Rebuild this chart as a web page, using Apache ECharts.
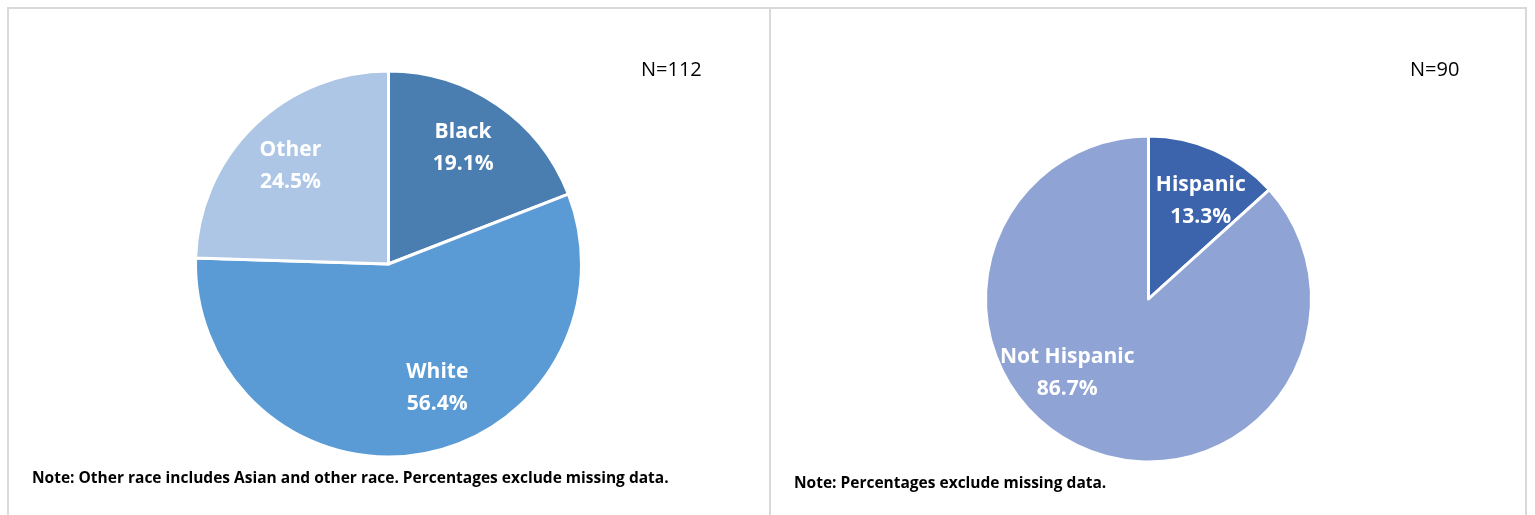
<!DOCTYPE html>
<html>
<head>
<meta charset="utf-8">
<script src="https://cdn.jsdelivr.net/npm/echarts@6/dist/echarts.min.js"></script>
<style>
  html, body { margin: 0; padding: 0; background: #fff; }
  #chart { width: 1535px; height: 515px; }
</style>
</head>
<body>
<div id="chart"></div>
<script>
// race breakdown (left pie), clockwise from 12 o'clock
const raceNames = ['Black', 'White', 'Other'];
const raceValues = [19.1, 56.4, 24.5];
const raceN = 'N=112';
const raceNote = 'Note: Other race includes Asian and other race. Percentages exclude missing data.';

// ethnicity breakdown (right pie)
const ethNames = ['Hispanic', 'Not Hispanic'];
const ethValues = [13.3, 86.7];
const ethN = 'N=90';
const ethNote = 'Note: Percentages exclude missing data.';

const raceColors = ['#4a7eb0', '#5b9bd5', '#adc6e5'];
const ethColors = ['#3c64ad', '#8fa4d4'];

const FONT = '"Open Sans", "Noto Sans", sans-serif';

// labels that were dragged by hand in the original
const labelNudge = {
    'Black': [-5, 0],
    'Other': [0, 3],
    'White': [25, -15],
    'Hispanic': [4, 11],
    'Not Hispanic': [-33, -35]
};

function pieData (names, values, colors) {
    return names.map((n, i) => ({
        name: n,
        value: values[i],
        itemStyle: { color: colors[i] }
    }));
}

// transparent copy of a pie, only used to place the labels further out
function labelSeries (names, values, center, radius) {
    return {
        type: 'pie',
        center: center,
        radius: [0, radius],
        startAngle: 90,
        clockwise: true,
        silent: true,
        z: 5,
        itemStyle: { color: 'transparent', borderWidth: 0 },
        emphasis: { disabled: true },
        label: {
            position: 'inside',
            color: '#fff',
            fontFamily: FONT,
            fontWeight: 'bold',
            fontSize: 21,
            lineHeight: 32,
            formatter: p => p.name + '\n' + p.value.toFixed(1) + '%'
        },
        labelLine: { show: false },
        data: names.map((n, i) => ({
            name: n,
            value: values[i],
            label: labelNudge[n] ? { offset: labelNudge[n] } : {}
        }))
    };
}

function mainSeries (names, values, colors, center, radius) {
    return {
        type: 'pie',
        center: center,
        radius: [0, radius],
        startAngle: 90,
        clockwise: true,
        silent: true,
        itemStyle: { borderColor: '#fff', borderWidth: 3 },
        emphasis: { disabled: true },
        label: { show: false },
        labelLine: { show: false },
        data: pieData(names, values, colors)
    };
}

let chart = echarts.init(document.getElementById('chart'), null, { renderer: 'canvas' });

let option = {
    backgroundColor: '#fff',
    animation: false,
    graphic: [
        {
            type: 'rect',
            shape: { x: 8, y: 8, width: 762, height: 530 },
            style: { fill: 'none', stroke: '#d9d9d9', lineWidth: 2 }
        },
        {
            type: 'rect',
            shape: { x: 770, y: 8, width: 756, height: 530 },
            style: { fill: 'none', stroke: '#d9d9d9', lineWidth: 2 }
        },
        {
            type: 'text', left: 641, top: 60,
            style: { text: raceN, font: '20px ' + FONT, fill: '#000' }
        },
        {
            type: 'text', left: 1410, top: 60,
            style: { text: ethN, font: '20px ' + FONT, fill: '#000' }
        },
        {
            type: 'text', left: 32, top: 471,
            style: { text: raceNote, font: 'bold 15.5px ' + FONT, fill: '#000' }
        },
        {
            type: 'text', left: 794, top: 476,
            style: { text: ethNote, font: 'bold 15.5px ' + FONT, fill: '#000' }
        }
    ],
    series: [
        mainSeries(raceNames, raceValues, raceColors, [388.5, 264], 193),
        labelSeries(raceNames, raceValues, [388.5, 264], 276),
        mainSeries(ethNames, ethValues, ethColors, [1148.5, 299], 163),
        labelSeries(ethNames, ethValues, [1148.5, 299], 232)
    ]
};

chart.setOption(option);
</script>
</body>
</html>
